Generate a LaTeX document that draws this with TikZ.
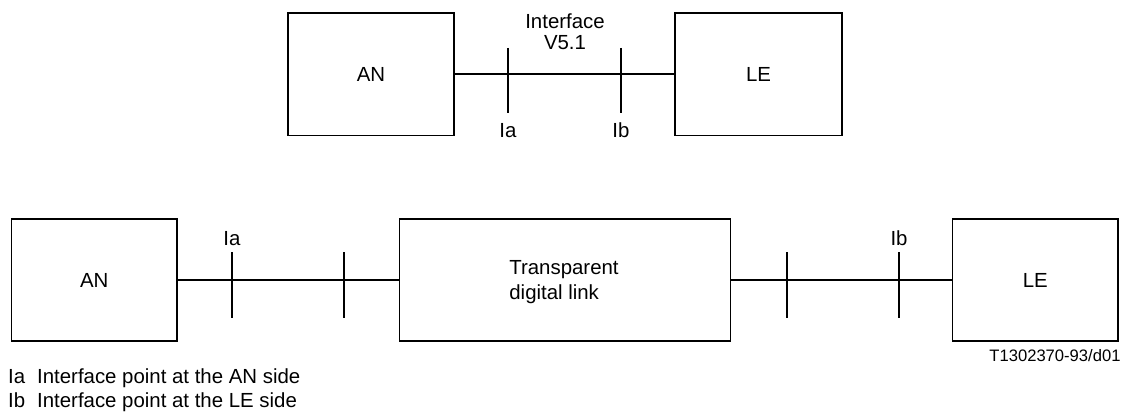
\documentclass[tikz,border=0pt]{standalone}
\usepackage{fontspec}
\setmainfont{Liberation Sans}
\begin{document}
\begin{tikzpicture}[x=1pt,y=-1pt,
  box/.style={draw,line width=1.5pt,inner sep=0pt,font=\fontsize{20.4}{24}\selectfont},
  conn/.style={line width=2pt},
  tickline/.style={line width=2pt},
  lbl/.style={font=\fontsize{20.4}{24}\selectfont,inner sep=0pt}]
\useasboundingbox (0,0) rectangle (1125,412);
% top row
\node[box,minimum width=166pt,minimum height=122.5pt] (an1) at (371,74.3) {AN};
\node[box,minimum width=167pt,minimum height=122.5pt] (le1) at (758.5,74.3) {LE};
\draw[conn] (an1.east) -- (le1.west);
\coordinate (ia1t) at (508,48); \coordinate (ia1b) at (508,113);
\coordinate (ib1t) at (621,48); \coordinate (ib1b) at (621,113);
\draw[tickline] (ia1t) -- (ia1b);
\draw[tickline] (ib1t) -- (ib1b);
\node[lbl,anchor=base] (ia1) at (508,137) {Ia};
\node[lbl,anchor=base] (ib1) at (621,137) {Ib};
\node[lbl,anchor=north,align=center,font=\fontsize{20.4}{21}\selectfont] (iface) at (565,13.5) {Interface\\V5.1};
% bottom row
\node[box,minimum width=165.3pt,minimum height=122pt] (an2) at (94.3,280) {AN};
\node[box,minimum width=331.2pt,minimum height=122pt] (mid) at (565.1,280) {};
\node[lbl,anchor=north,align=left,font=\fontsize{20.4}{25}\selectfont] (midtxt) at (564,260.5) {Transparent\\digital link};
\node[box,minimum width=165.3pt,minimum height=122pt] (le2) at (1035.3,280) {LE};
\draw[conn] (an2.east) -- (mid.west);
\draw[conn] (mid.east) -- (le2.west);
\coordinate (t1t) at (232,252); \coordinate (t1b) at (232,318);
\coordinate (t2t) at (344,252); \coordinate (t2b) at (344,318);
\coordinate (t3t) at (787,252); \coordinate (t3b) at (787,318);
\coordinate (t4t) at (899,252); \coordinate (t4b) at (899,318);
\draw[tickline] (t1t) -- (t1b);
\draw[tickline] (t2t) -- (t2b);
\draw[tickline] (t3t) -- (t3b);
\draw[tickline] (t4t) -- (t4b);
\node[lbl,anchor=base] (ia2) at (232,245) {Ia};
\node[lbl,anchor=base] (ib2) at (899,245) {Ib};
\node[lbl,anchor=base east,font=\fontsize{16.6}{20}\selectfont] (ref) at (1120.7,361.7) {T1302370-93/d01};
% legend
\node[lbl,anchor=base west] (lga) at (8,383) {Ia};
\node[lbl,anchor=base west] (lgat) at (37,383) {Interface point at the AN side};
\node[lbl,anchor=base west] (lgb) at (8,407) {Ib};
\node[lbl,anchor=base west] (lgbt) at (37,407) {Interface point at the LE side};
\end{tikzpicture}
\end{document}
